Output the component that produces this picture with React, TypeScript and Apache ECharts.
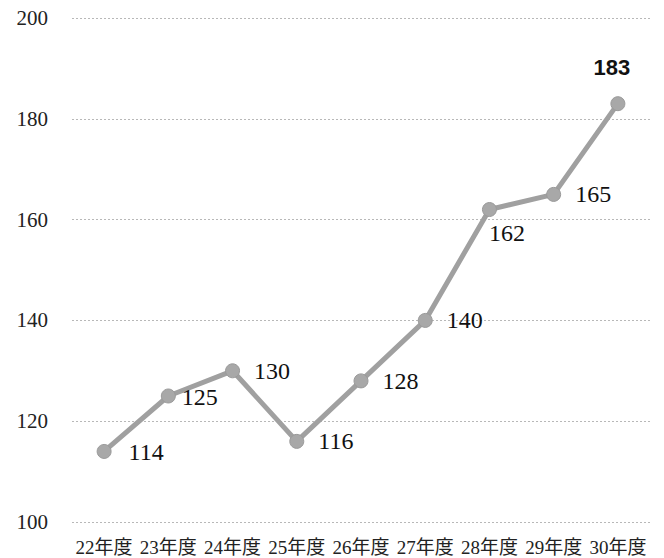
import React, { useEffect, useRef } from "react";
import * as echarts from "echarts";

const categories = ["22年度", "23年度", "24年度", "25年度", "26年度", "27年度", "28年度", "29年度", "30年度"];
const values = [114, 125, 130, 116, 128, 140, 162, 165, 183];
const yTicks = { min: 100, max: 200, interval: 20 };

const serif = "'Liberation Serif', 'DejaVu Serif', 'Noto Sans CJK JP', serif";

export default function App() {
  const ref = useRef<HTMLDivElement>(null);
  useEffect(() => {
    if (!ref.current) return;
    const chart = echarts.init(ref.current, null, { renderer: "svg" });
    const data = values.map((v, i) => {
      const item: any = { value: v };
      if (i === 0) item.label = { position: "right", offset: [3, 1] };
      if (i === 1) item.label = { position: "right", offset: [-8, 1] };
      if (i === 6) item.label = { position: "right", offset: [-22, 23] };
      if (i === values.length - 1) {
        item.label = {
          position: "top",
          distance: 18,
          fontFamily: "'Liberation Sans', Arial, sans-serif",
          fontWeight: "bold",
          fontSize: 22,
          offset: [-6, 0],
          color: "#111",
        };
      }
      return item;
    });
    chart.setOption({
      animation: false,
      backgroundColor: "#fff",
      grid: { left: 72, right: 14, top: 18, bottom: 36 },
      xAxis: {
        type: "category",
        data: categories,
        boundaryGap: true,
        axisLine: { show: false },
        axisTick: { show: false },
        axisLabel: {
          interval: 0,
          margin: 16,
          fontFamily: serif,
          fontSize: 19,
          color: "#222",
        },
      },
      yAxis: {
        type: "value",
        min: yTicks.min,
        max: yTicks.max,
        interval: yTicks.interval,
        axisLine: { show: false },
        axisTick: { show: false },
        axisLabel: {
          margin: 24,
          fontFamily: serif,
          fontSize: 21,
          color: "#222",
        },
        splitLine: {
          lineStyle: { color: "#b8b8b8", type: [2, 2], width: 1 },
        },
      },
      series: [
        {
          type: "line",
          data,
          symbol: "circle",
          symbolSize: 14,
          itemStyle: { color: "#a8a8a8", borderColor: "#9a9a9a", borderWidth: 1 },
          lineStyle: { color: "#a0a0a0", width: 5 },
          label: {
            show: true,
            position: "right",
            distance: 14,
            fontFamily: serif,
            fontSize: 24,
            color: "#111",
          },
        },
      ],
    });
    return () => chart.dispose();
  }, []);
  return (
    <div
      ref={ref}
      style={{ position: "fixed", left: 0, top: 0, width: 664, height: 558, background: "#fff" }}
    />
  );
}
